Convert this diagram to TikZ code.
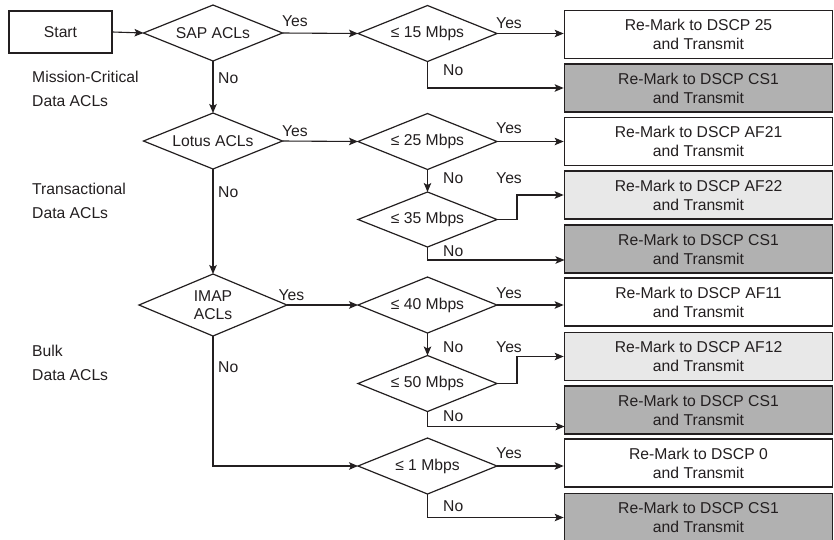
\documentclass[tikz,border=0pt]{standalone}
\usepackage{fontspec}
\setmainfont{Liberation Sans}
\usetikzlibrary{shapes.geometric,arrows.meta}
\definecolor{ink}{HTML}{231F20}
\definecolor{darkbox}{HTML}{B1B1B1}
\definecolor{lightbox}{HTML}{E8E8E8}
\tikzset{
  txt/.style={font=\fontsize{15.7}{19}\selectfont, text=ink},
  startbox/.style={draw=ink, line width=1.4pt, minimum width=103pt, minimum height=42pt, inner sep=0pt, txt},
  dec/.style={diamond, aspect=2.5, draw=ink, line width=1.2pt, minimum width=139pt, minimum height=56pt, inner sep=0pt, outer sep=0pt, txt},
  outbox/.style={draw=ink, line width=1.7pt, minimum width=268pt, minimum height=48pt, inner sep=0pt, align=center, txt},
  whitebox/.style={outbox, fill=white},
  graybox/.style={outbox, fill=darkbox},
  lgraybox/.style={outbox, fill=lightbox},
  conn/.style={draw=ink, line width=1.1pt, -{Stealth[length=9pt,width=7.5pt,inset=2pt]}},
  lbl/.style={txt, anchor=base west, inner sep=0pt},
  side/.style={font=\fontsize{15.7}{24}\selectfont, text=ink, align=left, anchor=west, inner sep=0pt}
}
\begin{document}
\begin{tikzpicture}[x=1pt,y=-1pt]
\useasboundingbox (0,0) rectangle (834,539);
\clip (0,0) rectangle (834,539);
\fill[white] (0,0) rectangle (834,539);

% start
\node[startbox] (start) at (60.5,32) {Start};

% first-level decisions
\node[dec] (sap) at (213,33) {SAP ACLs};
\node[dec] (lotus) at (213,141) {Lotus ACLs};
\node[dec, minimum width=148pt, minimum height=62pt, align=center, font=\fontsize{15.7}{18}\selectfont] (imap) at (213,305) {IMAP\\ACLs};

% rate decisions
\node[dec] (d15) at (427.5,33.5) {≤ 15 Mbps};
\node[dec] (d25) at (427.5,141.5) {≤ 25 Mbps};
\node[dec, minimum height=55pt] (d35) at (427.5,219.5) {≤ 35 Mbps};
\node[dec] (d40) at (427.5,305) {≤ 40 Mbps};
\node[dec] (d50) at (427.5,383.5) {≤ 50 Mbps};
\node[dec] (d1) at (427.5,466) {≤ 1 Mbps};

% output boxes
\node[whitebox] (b1) at (698.5,34.5) {Re-Mark to DSCP 25\\and Transmit};
\node[graybox] (b2) at (698.5,88) {Re-Mark to DSCP CS1\\and Transmit};
\node[whitebox] (b3) at (698.5,141.5) {Re-Mark to DSCP AF21\\and Transmit};
\node[lgraybox] (b4) at (698.5,195) {Re-Mark to DSCP AF22\\and Transmit};
\node[graybox] (b5) at (698.5,249) {Re-Mark to DSCP CS1\\and Transmit};
\node[whitebox] (b6) at (698.5,302) {Re-Mark to DSCP AF11\\and Transmit};
\node[lgraybox] (b7) at (698.5,356.5) {Re-Mark to DSCP AF12\\and Transmit};
\node[graybox] (b8) at (698.5,410) {Re-Mark to DSCP CS1\\and Transmit};
\node[whitebox] (b9) at (698.5,463) {Re-Mark to DSCP 0\\and Transmit};
\node[graybox] (b10) at (698.5,517.5) {Re-Mark to DSCP CS1\\and Transmit};

% side labels
\node[side] (l1) at (32,89.3) {Mission-Critical\\Data ACLs};
\node[side] (l2) at (32,200.8) {Transactional\\Data ACLs};
\node[side] (l3) at (32,363.3) {Bulk\\Data ACLs};

% free ends on box edges
\coordinate (e35) at (564.5,260);
\coordinate (e50) at (564.5,426.5);

% connectors
\draw[conn] (start.east) -- (sap.west);
\draw[conn] (sap.east) -- (d15.west);
\draw[conn] (sap.south) -- (lotus.north);
\draw[conn] (lotus.east) -- (d25.west);
\draw[conn] (lotus.south) -- (imap.north);
\draw[conn] (imap.east) -- (d40.west);
\draw[conn] (imap.south) |- (d1.west);

\draw[conn] (d15.east) -- (d15.east -| b1.west);
\draw[conn] (d15.south) |- (b2.west);
\draw[conn] (d25.east) -- (d25.east -| b3.west);
\draw[conn] (d25.south) -- (d35.north);
\draw[conn] (d35.east) -- ++(20,0) |- (b4.west);
\draw[conn] (d35.south) |- (e35);
\draw[conn] (d40.east) -- (d40.east -| b6.west);
\draw[conn] (d40.south) -- (d50.north);
\draw[conn] (d50.east) -- ++(20,0) |- (b7.west);
\draw[conn] (d50.south) |- (e50);
\draw[conn] (d1.east) -- (d1.east -| b9.west);
\draw[conn] (d1.south) |- (b10.west);

% yes / no labels
\node[lbl] (y1) at (282,26.7) {Yes};
\node[lbl] (y2) at (282,136) {Yes};
\node[lbl] (y3) at (278.5,300) {Yes};
\node[lbl] (y4) at (496,28) {Yes};
\node[lbl] (y5) at (496,133) {Yes};
\node[lbl] (y6) at (496,183) {Yes};
\node[lbl] (y7) at (496,298) {Yes};
\node[lbl] (y8) at (496,352) {Yes};
\node[lbl] (y9) at (496,458) {Yes};

\node[lbl] (n1) at (218,83) {No};
\node[lbl] (n2) at (218,197) {No};
\node[lbl] (n3) at (218,372.5) {No};
\node[lbl] (n4) at (443,75) {No};
\node[lbl] (n5) at (443,183) {No};
\node[lbl] (n6) at (443,256) {No};
\node[lbl] (n7) at (443,352) {No};
\node[lbl] (n8) at (443,421.5) {No};
\node[lbl] (n9) at (443,511) {No};
\end{tikzpicture}
\end{document}
